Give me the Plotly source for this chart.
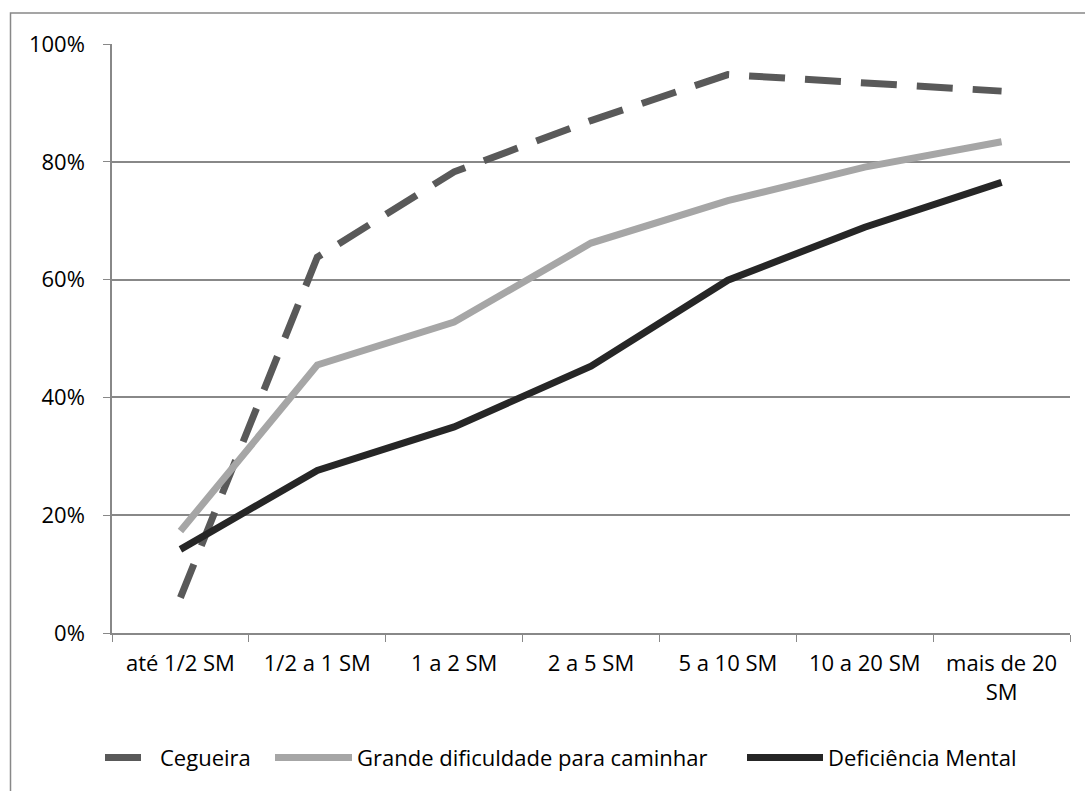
import plotly.graph_objects as go

categories = ["até 1/2 SM", "1/2 a 1 SM", "1 a 2 SM", "2 a 5 SM", "5 a 10 SM", "10 a 20 SM", "mais de 20 SM"]
tick_labels = ["até 1/2 SM", "1/2 a 1 SM", "1 a 2 SM", "2 a 5 SM", "5 a 10 SM", "10 a 20 SM", "mais de 20<br>SM"]
cegueira = [0.06, 0.638, 0.783, 0.870, 0.948, 0.935, 0.920]
grande_dificuldade = [0.173, 0.455, 0.528, 0.662, 0.734, 0.791, 0.834]
deficiencia_mental = [0.142, 0.276, 0.350, 0.453, 0.599, 0.689, 0.765]

FONT = "Open Sans"
FS = 22
fig = go.Figure()
fig.add_trace(go.Scatter(x=categories, y=cegueira, name="Cegueira", mode="lines", legend="legend",
                         line=dict(color="#595959", width=7, dash="36px,20px")))
fig.add_trace(go.Scatter(x=categories, y=grande_dificuldade, name="Grande dificuldade para caminhar", mode="lines",
                         legend="legend2", line=dict(color="#a6a6a6", width=7)))
fig.add_trace(go.Scatter(x=categories, y=deficiencia_mental, name="Deficiência Mental", mode="lines",
                         legend="legend3", line=dict(color="#262626", width=7)))

W, H = 1085, 791
L, R, T, B = 112, 15, 44, 156
pw, ph = W - L - R, H - T - B

def px_x(px):
    return (px - L) / pw

def px_y(py):
    return (H - B - py) / ph

def leg(xpx, iw=30):
    return dict(orientation="h", x=px_x(xpx), xanchor="left", y=px_y(760), yanchor="middle",
                font=dict(family=FONT, size=FS, color="black"), itemwidth=iw,
                bgcolor="rgba(0,0,0,0)", borderwidth=0)

fig.update_layout(
    width=W, height=H,
    margin=dict(l=L, r=R, t=T, b=B),
    paper_bgcolor="white", plot_bgcolor="white",
    font=dict(family=FONT, size=FS, color="black"),
    showlegend=True,
    legend=leg(100, 50),
    legend2=leg(270, 77),
    legend3=leg(742, 76),
    xaxis=dict(type="category", categoryorder="array", categoryarray=categories,
               tickmode="array", tickvals=categories, ticktext=tick_labels,
               range=[-0.5, 6.5], tickson="boundaries", ticks="outside", ticklen=7,
               tickcolor="#888888", showline=True, linecolor="#888888", linewidth=1.5,
               showgrid=False, ticklabelstandoff=10,
               tickfont=dict(family=FONT, size=FS, color="black")),
    yaxis=dict(range=[0, 1], dtick=0.2, tickformat=".0%", showgrid=True, gridcolor="#888888",
               gridwidth=1.5, showline=True, linecolor="#888888", linewidth=1.5,
               ticks="outside", ticklen=7, tickcolor="#888888", zeroline=False,
               ticklabelstandoff=14,
               tickfont=dict(family=FONT, size=FS, color="black")),
    shapes=[dict(type="rect", xref="paper", yref="paper",
                 x0=px_x(10.5), x1=px_x(1095), y0=px_y(800), y1=px_y(13),
                 line=dict(color="#888888", width=1.5), fillcolor="rgba(0,0,0,0)", layer="below")],
)

fig.write_html("out.html")
